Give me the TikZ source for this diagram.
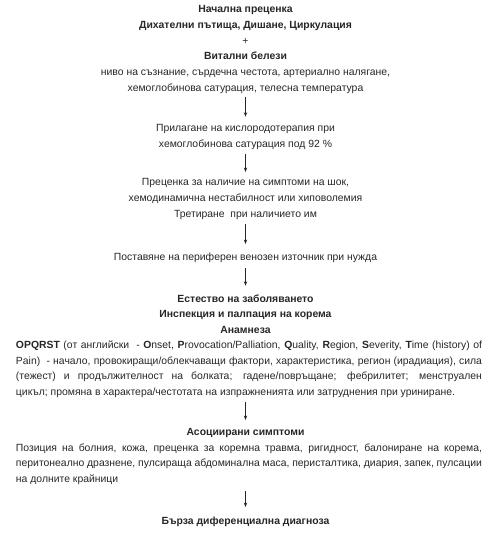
\documentclass[tikz,border=0pt]{standalone}
\usepackage{fontspec}
\setmainfont{Liberation Sans}
\usetikzlibrary{arrows.meta}
\definecolor{ink}{HTML}{262626}
\tikzset{
  txt/.style={inner sep=0pt, outer sep=0pt, align=center, anchor=north, text=ink,
    font=\fontsize{10.4}{15.7}\selectfont},
  hd/.style={txt, font=\fontsize{10.4}{15.7}\selectfont\bfseries},
  para/.style={inner sep=0pt, outer sep=0pt, anchor=north west, text width=466pt,
    align=justify, text=ink, font=\fontsize{10.4}{15.6}\selectfont},
  arr/.style={draw=ink, line width=0.6pt, -{Stealth[length=4.5pt,width=3.4pt]}}
}
\begin{document}
\begin{tikzpicture}[x=1pt,y=-1pt]
\useasboundingbox (0,0) rectangle (497,557);

\node[txt] (A) at (245.5,5.6) {\textbf{Начална преценка}\\
  \textbf{Дихателни пътища, Дишане, Циркулация}\\
  +\\
  \textbf{Витални белези}\\
  ниво на съзнание, сърдечна честота, артериално налягане,\\
  хемоглобинова сатурация, телесна температура};

\node[txt] (B) at (245.5,124.6) {Прилагане на кислородотерапия при\\
  хемоглобинова сатурация под 92 \%};

\node[txt] (C) at (245.5,178.6) {Преценка за наличие на симптоми на шок,\\
  хемодинамична нестабилност или хиповолемия\\
  Третиране\ \ при наличието им};

\node[txt] (D) at (245.5,252.6) {Поставяне на периферен венозен източник при нужда};

\node[hd] (E) at (245.5,294.6) {Естество на заболяването\\
  Инспекция и палпация на корема\\
  Анамнеза};

\node[para] (Ep) at (16,341) {\hyphenpenalty=10000\exhyphenpenalty=10000\tolerance=10000
  \textbf{OPQRST} (от английски\ \ - \textbf{O}nset, \textbf{P}rovocation/Palliation, \textbf{Q}uality, \textbf{R}egion, \textbf{S}everity, \textbf{T}ime (history) of\linebreak
  Pain)\ \ - начало, провокиращи/облекчаващи фактори, характеристика, регион (ирадиация), сила\linebreak
  (тежест) и продължителност на болката; гадене/повръщане; фебрилитет; менструален\linebreak
  цикъл; промяна в характера/честотата на изпражненията или затруднения при уриниране.};

\node[hd] (F) at (245.5,428.6) {Асоциирани симптоми};

\node[para] (Fp) at (16,443.6) {\hyphenpenalty=10000\exhyphenpenalty=10000\tolerance=10000
  Позиция на болния, кожа, преценка за коремна травма, ригидност, балониране на корема,\linebreak
  перитонеално дразнене, пулсираща абдоминална маса, перисталтика, диария, запек, пулсации\linebreak
  на долните крайници};

\node[hd] (G) at (245.5,516.6) {Бърза диференциална диагноза};

\draw[arr, shorten <=3.5pt, shorten >=7.9pt] (A) -- (B);
\draw[arr, shorten <=4.8pt, shorten >=6.6pt] (B) -- (C);
\draw[arr, shorten <=4.8pt, shorten >=8.6pt] (C) -- (D);
\draw[arr, shorten <=5.8pt, shorten >=8.9pt] (D) -- (E);
\draw[arr, shorten <=4.8pt, shorten >=8.6pt] (Ep.south -| E.south) -- (F);
\draw[arr, shorten <=6.8pt, shorten >=9.6pt] (Fp.south -| F.south) -- (G);
\end{tikzpicture}
\end{document}
